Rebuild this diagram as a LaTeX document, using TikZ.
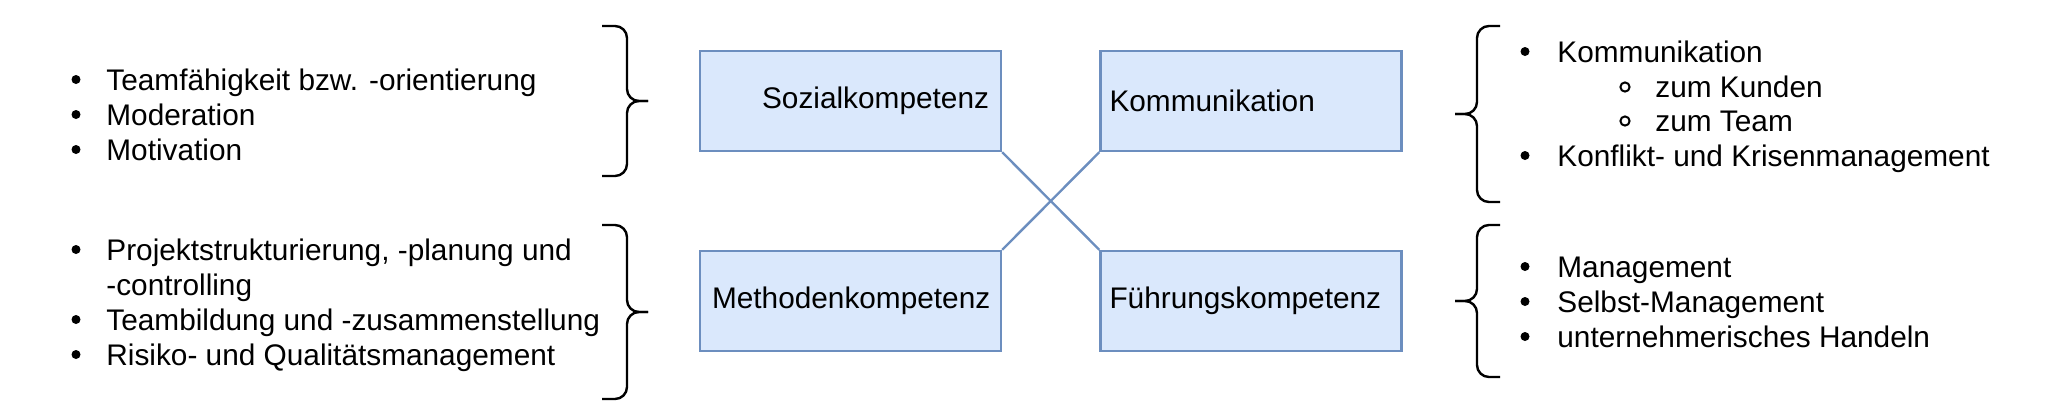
\documentclass[tikz,border=0pt]{standalone}
\usepackage{fontspec}
\setmainfont{Liberation Sans}
\definecolor{boxfill}{HTML}{DAE8FC}
\definecolor{boxline}{HTML}{6C8EBF}
\begin{document}
\begin{tikzpicture}[x=0.5pt,y=-0.5pt,
  box/.style={draw=boxline, fill=boxfill, line width=1.2pt, minimum height=50pt, inner ysep=0pt, font=\fontsize{14.9pt}{18pt}\selectfont},
  lbox/.style={box, inner xsep=6pt, text width=138.5pt, align=right},
  rbox/.style={box, inner xsep=4.5pt, text width=141.5pt, align=left},
  link/.style={draw=boxline, line width=1.2pt},
  brace/.style={draw=black, line width=1.2pt, rounded corners=6pt},
  item/.style={anchor=base west, inner sep=0pt, font=\fontsize{14.9pt}{18pt}\selectfont},
  dot/.style={fill=black},
  ring/.style={draw=black, line width=1pt}]
\useasboundingbox (0,0) rectangle (2053,403);

% boxes
\node[lbox] (soz)   at (850.5,101) {Sozialkompetenz};
\node[rbox] (komm)  at (1251,101)  {Kommunikation};
\node[lbox] (meth)  at (850.5,301) {Methodenkompetenz};
\node[rbox] (fuehr) at (1251,301)  {Führungskompetenz};

% crossing connectors
\draw[link] (soz.south east) -- (fuehr.north west);
\draw[link] (meth.north east) -- (komm.south west);

% braces
\draw[brace] (602,26) -- (627,26) -- (627,101) -- (648,101);
\draw[brace] (648,101) -- (627,101) -- (627,176) -- (602,176);
\draw[brace] (602,225) -- (627,225) -- (627,312) -- (648,312);
\draw[brace] (648,312) -- (627,312) -- (627,399) -- (602,399);
\draw[brace] (1500,26) -- (1477,26) -- (1477,114) -- (1455,114);
\draw[brace] (1455,114) -- (1477,114) -- (1477,202) -- (1500,202);
\draw[brace] (1500,225) -- (1477,225) -- (1477,301) -- (1455,301);
\draw[brace] (1455,301) -- (1477,301) -- (1477,377) -- (1500,377);

% left list 1
\node[item] (la1) at (106,90)  {Teamfähigkeit bzw. -orientierung};
\node[item] (la2) at (106,125) {Moderation};
\node[item] (la3) at (106,160) {Motivation};
\foreach \b in {90,125,160} \fill[dot] (76,\b-10.5) circle[radius=2.25pt];

% left list 2
\node[item] (lb1) at (106,260) {Projektstrukturierung, -planung und};
\node[item] (lb2) at (106,295) {-controlling};
\node[item] (lb3) at (106,330) {Teambildung und -zusammenstellung};
\node[item] (lb4) at (106,365) {Risiko- und Qualitätsmanagement};
\foreach \b in {260,330,365} \fill[dot] (76,\b-10.5) circle[radius=2.25pt];

% right list 1
\node[item] (ra1) at (1557,62)  {Kommunikation};
\node[item] (ra2) at (1655,97)  {zum Kunden};
\node[item] (ra3) at (1655,131) {zum Team};
\node[item] (ra4) at (1557,166) {Konflikt- und Krisenmanagement};
\foreach \b in {62,166} \fill[dot] (1525,\b-10.5) circle[radius=2.25pt];
\foreach \b in {97,131} \draw[ring] (1625,\b-10) circle[radius=2.3pt];

% right list 2
\node[item] (rb1) at (1557,277) {Management};
\node[item] (rb2) at (1557,312) {Selbst-Management};
\node[item] (rb3) at (1557,347) {unternehmerisches Handeln};
\foreach \b in {277,312,347} \fill[dot] (1525,\b-10.5) circle[radius=2.25pt];
\end{tikzpicture}
\end{document}
